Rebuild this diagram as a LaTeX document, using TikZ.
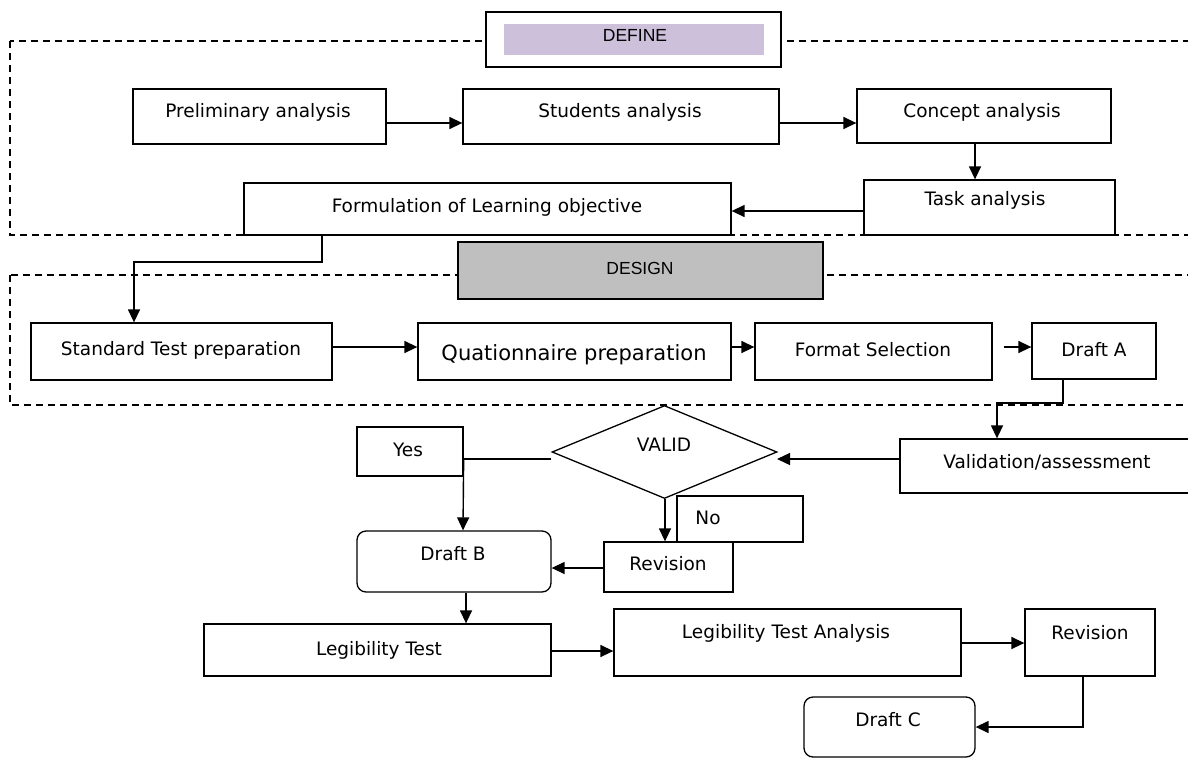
\documentclass[tikz,border=0pt]{standalone}
\usepackage{fontspec}
\setmainfont{DejaVu Sans}
\newfontfamily\hdfont{Liberation Sans}
\usetikzlibrary{arrows.meta,shapes.geometric,fit}
\definecolor{lilac}{HTML}{CCC0DA}
\definecolor{greybox}{HTML}{BFBFBF}
\begin{document}
\begin{tikzpicture}[x=1pt,y=-1pt,
  box/.style={draw=black, line width=1.3pt, fill=white, inner sep=0pt},
  rbox/.style={box, rounded corners=9pt},
  txt/.style={font=\fontsize{18.5}{21}\selectfont, inner sep=0pt},
  bigtxt/.style={font=\fontsize{21}{24}\selectfont, inner sep=0pt},
  hdtxt/.style={font=\hdfont\fontsize{17.5}{20}\selectfont, inner sep=0pt},
  conn/.style={line width=1.4pt, -{Triangle[length=13pt,width=12pt]}},
  plain/.style={line width=1.4pt},
  region/.style={draw=black, line width=1.2pt, dash pattern=on 7pt off 5pt}
]
\useasboundingbox (0,0) rectangle (1188,758);
\clip (0,0) rectangle (1188,758);

% dashed phase regions
\draw[region] (10,41) rectangle (1210,235);
\draw[region] (10,275) rectangle (1210,405);

% phase headers
\node[box, fit={(486,12) (781,67)}] (define) {};
\node[fill=lilac, inner sep=0pt, fit={(504,24) (764,55)}] (definefill) {};
\node[hdtxt] (definet) at (635,35) {DEFINE};
\node[box, fill=greybox, fit={(458,242) (823,299)}] (design) {};
\node[hdtxt] (designt) at (640,268) {DESIGN};

% DEFINE boxes
\node[box, fit={(133,89) (386,144)}] (prelim) {};
\node[txt] at (258,112) {Preliminary analysis};
\node[box, fit={(463,89) (779,144)}] (students) {};
\node[txt] at (620,112) {Students analysis};
\node[box, fit={(857,89) (1111,143)}] (concept) {};
\node[txt] at (982,112) {Concept analysis};
\node[box, fit={(864,180) (1115,235)}] (task) {};
\node[txt] at (985,200) {Task analysis};
\node[box, fit={(244,183) (731,235)}] (formul) {};
\node[txt] at (487,207) {Formulation of Learning objective};

% DESIGN boxes
\node[box, fit={(31,323) (332,380)}] (standard) {};
\node[txt] at (181,350) {Standard Test preparation};
\node[box, fit={(418,323) (731,380)}] (quation) {};
\node[bigtxt] at (574,355) {Quationnaire preparation};
\node[box, fit={(755,323) (992,380)}] (format) {};
\node[txt] at (873,350) {Format Selection};
\node[box, fit={(1032,323) (1156,379)}] (drafta) {};
\node[txt] at (1094,350) {Draft A};

% validation part
\node[box, fit={(900,439) (1200,493)}] (validation) {};
\node[txt] at (1047,462) {Validation/assessment};
\node[diamond, draw=black, line width=1.3pt, fill=white, inner sep=0pt,
      minimum width=225pt, minimum height=93pt] (valid) at (664.5,452) {};
\node[txt] at (664,445) {VALID};
\node[box, fit={(357,427) (463,476)}] (yes) {};
\node[txt] at (408,450) {Yes};
\node[box, fit={(677,496) (803,542)}] (no) {};
\node[txt] at (708,518) {No};
\node[box, fit={(604,542) (733,592)}] (revision) {};
\node[txt] at (668,564) {Revision};
\node[rbox, fit={(357,531) (551,592)}] (draftb) {};
\node[txt] at (453,554) {Draft B};

% final part
\node[box, fit={(204,624) (551,676)}] (legib) {};
\node[txt] at (379,650) {Legibility Test};
\node[box, fit={(614,609) (961,676)}] (legiban) {};
\node[txt] at (786,633) {Legibility Test Analysis};
\node[box, fit={(1025,609) (1155,676)}] (revision2) {};
\node[txt] at (1090,633) {Revision};
\node[rbox, fit={(804,697) (975,757)}] (draftc) {};
\node[txt] at (888,720) {Draft C};

% connectors
\draw[conn] (prelim.east |- 0,123) -- (students.west |- 0,123);
\draw[conn] (students.east |- 0,123) -- (concept.west |- 0,123);
\draw[conn] (concept.south -| 975,0) -- (task.north -| 975,0);
\draw[conn] (task.west |- 0,211) -- (formul.east |- 0,211);
\draw[conn] (formul.south -| 322,0) |- (134,262) -- (standard.north -| 134,0);
\draw[conn] (standard.east |- 0,347) -- (quation.west |- 0,347);
\draw[conn] (quation.east |- 0,347) -- (format.west |- 0,347);
\draw[conn, shorten <=11pt] (format.east |- 0,347) -- (drafta.west |- 0,347);
\draw[conn] (drafta.south -| 1063,0) |- (997,403) -- (validation.north -| 997,0);
\draw[conn] (validation.west |- 0,459) -- (777,459);
\draw[plain] (valid.west |- 0,459) -- (yes.east |- 0,459);
\draw[conn] (yes.east |- 0,459) -- (draftb.north -| 463,0);
\draw[conn] (valid.south -| 665,0) -- (revision.north -| 665,0);
\draw[conn] (revision.west |- 0,568) -- (draftb.east |- 0,568);
\draw[conn] (draftb.south -| 466,0) -- (legib.north -| 466,0);
\draw[conn] (legib.east |- 0,651) -- (legiban.west |- 0,651);
\draw[conn] (legiban.east |- 0,643) -- (revision2.west |- 0,643);
\draw[conn] (revision2.south -| 1083,0) |- (draftc.east |- 0,727);
\end{tikzpicture}
\end{document}
